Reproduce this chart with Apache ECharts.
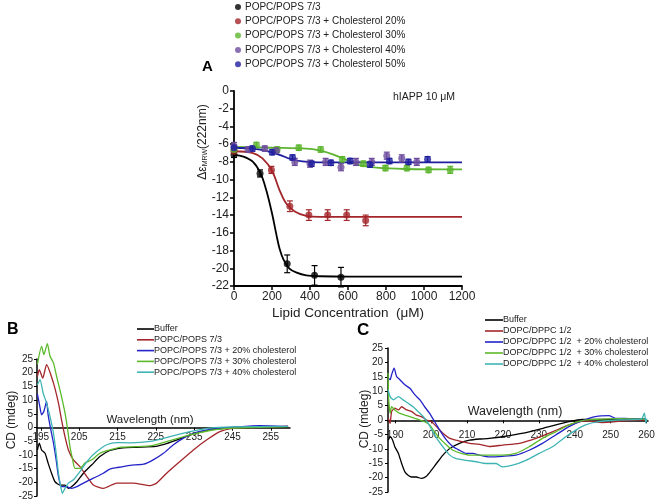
<!DOCTYPE html>
<html><head><meta charset="utf-8">
<script src="https://cdn.jsdelivr.net/npm/echarts@6/dist/echarts.min.js"></script>
<style>html,body{margin:0;padding:0;background:#fff}#c{width:660px;height:502px}</style>
</head><body><div id="c"></div><script>
// ---------- Panel A data ----------
const aLegend = ['POPC/POPS 7/3','POPC/POPS 7/3 + Cholesterol 20%','POPC/POPS 7/3 + Cholesterol 30%','POPC/POPS 7/3 + Cholesterol 40%','POPC/POPS 7/3 + Cholesterol 50%'];
const aXTicks = [0,200,400,600,800,1000,1200];
const aYTicks = [0,-2,-4,-6,-8,-10,-12,-14,-16,-18,-20,-22];
const blackConc = [0,137,280,424,563];
const blackVal  = [-7.2,-9.3,-19.5,-20.8,-21.0];
const blackErr  = [0.3,0.4,1.0,1.1,1.1];
const redConc = [0,197,294,394,493,593,693];
const redVal  = [-6.8,-8.9,-13.0,-14.0,-14.0,-14.0,-14.6];
const redErr  = [0.2,0.4,0.6,0.6,0.6,0.6,0.6];
const greenConc = [0,118,227,341,456,570,681,797,910,1024,1138];
const greenVal  = [-6.6,-6.1,-6.6,-6.4,-6.6,-7.7,-8.2,-8.7,-8.7,-8.9,-8.9];
const greenErr  = [0.3,0.3,0.3,0.3,0.3,0.3,0.3,0.3,0.3,0.3,0.4];
const purpleConc = [0,74,162,223,320,400,482,563,642,725,804,883,962];
const purpleVal  = [-6.2,-6.6,-6.5,-6.7,-8.0,-8.2,-8.0,-8.6,-8.0,-8.0,-7.3,-7.6,-8.0];
const purpleErr  = [0.4,0.3,0.3,0.3,0.4,0.4,0.4,0.4,0.4,0.4,0.4,0.4,0.4];
const blueConc = [0,97,201,308,408,510,611,716,818,918,1019];
const blueVal  = [-6.4,-6.5,-6.9,-7.5,-8.2,-8.1,-7.9,-8.3,-7.9,-8.0,-7.7];
const blueErr  = [0.3,0.3,0.3,0.3,0.3,0.3,0.3,0.3,0.3,0.3,0.3];
// fitted curves
const blackFit = [[0,-7.2],[50,-7.4],[100,-8.0],[140,-9.3],[170,-11.2],[200,-13.8],[225,-16.4],[240,-17.8],[260,-19.0],[290,-20.0],[330,-20.5],[380,-20.8],[450,-20.9],[600,-20.95],[1200,-20.95]];
const redFit = [[0,-6.8],[100,-7.0],[150,-7.6],[200,-9.0],[240,-11.2],[275,-12.7],[320,-13.6],[380,-14.1],[450,-14.2],[1200,-14.2]];
const greenFit = [[0,-6.3],[200,-6.4],[380,-6.5],[450,-6.7],[500,-7.0],[550,-7.4],[600,-7.85],[660,-8.35],[750,-8.65],[900,-8.8],[1200,-8.85]];
const blueFit = [[0,-6.4],[100,-6.5],[180,-6.8],[240,-7.2],[300,-7.7],[360,-7.95],[450,-8.05],[1200,-8.05]];

// ---------- Panel B data (wavelength nm, CD mdeg) ----------
const bLegend = ['Buffer','POPC/POPS 7/3','POPC/POPS 7/3 + 20% cholesterol','POPC/POPS 7/3 + 30% cholesterol','POPC/POPS 7/3 + 40% cholesterol'];
const bXTicks = [195,205,215,225,235,245,255];
const bBuffer = [[194.1,-8.2],[194.6,-5.7],[195.2,-8.2],[196.1,-9.4],[196.9,-13],[197.8,-16.7],[198.7,-19.8],[200,-21],[201.3,-21],[202.2,-22.2],[203,-21.6],[204.4,-19.8],[206.1,-16.7],[208.3,-13.6],[210.4,-10.6],[213,-8.4],[216.4,-7.4],[220,-7.2],[225,-6.9],[228,-5.8],[230,-4.8],[233,-3.2],[236,-1.9],[240,-0.7],[245,-0.1],[250,0.1],[259.5,0.3]];
const bPopc = [[194.1,18.7],[194.6,21.1],[195.5,18],[196.5,22.9],[198.3,16.2],[199.6,8.9],[200.4,2.8],[201.3,-3.3],[202.2,-8.2],[203.5,-11.8],[205.2,-14.3],[207,-17.9],[208.7,-21],[211.3,-22.2],[214.8,-20.3],[219.1,-20.3],[223.5,-21.2],[225.2,-20.3],[227.8,-16.7],[231.3,-12.4],[234.8,-8.2],[238.3,-4.5],[241.7,-1.5],[245.2,-0.3],[250,0],[255,0.2],[259.5,0.5]];
const bChol20 = [[194.1,12.3],[194.8,7.2],[195.2,4.6],[195.8,5.9],[196.5,9.5],[196.9,4.6],[197.6,-0.8],[198.3,-5.7],[199,-11.8],[199.6,-17.9],[200.4,-21.6],[201.7,-21.6],[203,-22.2],[204.4,-21.6],[206.1,-20.3],[208.7,-18.5],[211.3,-16.7],[213,-15.2],[215,-14.6],[218.3,-13.8],[221.8,-13.4],[224.3,-11.8],[227,-9.4],[229.6,-6.3],[232.2,-3.9],[234.8,-2.1],[237.4,-1.1],[241,-0.4],[246,0.2],[252,0.7],[259.5,0.4]];
const bChol30 = [[194.1,23],[195.2,29.6],[195.8,26.6],[196.7,30.6],[197.4,26],[198.3,23.6],[199.1,18.7],[200.4,11.3],[201.3,5.3],[202,-0.8],[202.6,-7],[203.3,-11.8],[203.9,-14.9],[205.2,-14.9],[206.5,-13],[208.3,-11.8],[210.4,-9.4],[213,-8.2],[216,-7.2],[220,-7.0],[224,-6.6],[228.7,-4.8],[233.9,-2.7],[239.1,-1.1],[243,-0.4],[250,0],[259.5,0.3]];
const bChol40 = [[194.1,15.6],[194.8,17.5],[195.6,12.6],[196.5,8.9],[197.4,4],[198.3,-2.1],[199,-9.4],[199.6,-16.7],[200.2,-21.6],[200.6,-24],[201.3,-22.2],[202.2,-20.3],[203.5,-19.1],[205.2,-16.1],[207.4,-11.8],[209.6,-8.8],[212.2,-6.3],[214.8,-5.5],[218.3,-5.6],[223.5,-5.1],[228.7,-3.3],[233.9,-1.5],[239.1,-0.2],[245,0.2],[259.5,0.4]];

// ---------- Panel C data ----------
const cLegend = ['Buffer','DOPC/DPPC 1/2','DOPC/DPPC 1/2  + 20% cholesterol','DOPC/DPPC 1/2  + 30% cholesterol','DOPC/DPPC 1/2  + 40% cholesterol'];
const cXTicks = [190,200,210,220,230,240,250,260];
const cBuffer = [[188.1,-7],[188.6,-5.8],[189.3,-7],[189.9,-9.3],[190.9,-11.6],[191.8,-15.1],[192.7,-18],[193.6,-19.2],[194.6,-19.8],[195.9,-19.8],[197.3,-20.3],[198.7,-19.5],[200.1,-17.4],[201.5,-15.1],[203.3,-12.2],[205.2,-9.9],[207.9,-8.1],[210.7,-7],[213.5,-6.6],[216.2,-6.4],[221.8,-5.4],[227.3,-4.1],[232.9,-2.3],[238.4,-0.6],[242,0.2],[250,0.2],[259.5,0.3]];
const cDopc = [[188.1,0.6],[188.6,-1.2],[189,2.9],[189.9,4.1],[190.9,3.5],[191.8,4.6],[193.2,3.5],[194.6,2.9],[195.9,1.7],[197.3,1.2],[198.7,0],[200.1,-0.6],[201.5,-2.3],[203.3,-4.6],[205.2,-6.4],[207,-7],[208.9,-7.6],[210.7,-8.1],[213.5,-8.5],[216.2,-9.2],[219.9,-8.7],[224.6,-8.1],[229.2,-6.4],[233.8,-4.1],[238.4,-1.7],[243,-0.3],[247.6,-0.9],[252.2,-0.5],[256.9,0],[259.8,0]];
const cChol20 = [[188.1,14.5],[188.6,14],[189,15.7],[189.7,18],[190.4,15.1],[191.3,14],[192.7,12.2],[194.1,11],[195.5,8.7],[196.9,7],[198.2,4.6],[199.6,2.3],[201,-0.6],[202.4,-3.5],[204.3,-7],[206.1,-9.3],[207.9,-10.5],[209.8,-11.6],[211.6,-11.6],[213.5,-12.2],[216.2,-12.8],[219.9,-12.6],[223.6,-12.2],[227.3,-10.5],[231,-8.1],[234.7,-5.2],[238.4,-2.3],[242.1,-0.2],[245.8,1.2],[249.5,1.5],[251.3,0.6],[255,0.5],[259.8,0.3]];
const cChol30 = [[188,16.3],[188.2,7],[188.6,2.3],[189,4.6],[189.9,3.5],[191.3,2.3],[192.7,1.7],[194.1,1.2],[195.5,0.6],[196.9,0],[198.2,-0.6],[199.6,-1.7],[201,-4.1],[202.4,-6.4],[204.3,-8.7],[206.1,-10.5],[208.4,-11.6],[210.7,-12.2],[213.5,-12.2],[216.2,-12.2],[219.9,-12.2],[223.6,-11.6],[227.3,-9.3],[231,-6.4],[234.7,-4.1],[238.4,-1.7],[242.1,-0.2],[245.8,0.2],[252,0.5],[259.8,0.3]];
const cChol40 = [[188,10.5],[188.6,8.1],[189.5,7],[190.9,8.1],[192.2,7],[193.6,5.8],[195,4.6],[196.4,2.9],[197.8,1.2],[199.2,-1.2],[200.5,-4.1],[201.9,-7],[203.3,-9.3],[205.2,-12.2],[207,-13.4],[209.8,-14],[212.6,-14.5],[215.3,-15.1],[218.1,-15.1],[219.9,-16.3],[222.7,-15.7],[226.4,-14],[230.1,-11.6],[233.8,-9.3],[237.5,-5.8],[240.3,-3.5],[243,-1.7],[246.7,-0.6],[252,0],[258.5,0.3],[259.4,2.4],[259.8,-1],[260.1,0.5]];

// ---------- styling ----------
const FONT = 'Liberation Sans, Arial, sans-serif';
const aColors = ['#000000','#a3262a','#5db530','#6d4c9c','#1e1e9e'];
const cdColors = ['#000000','#a3262a','#2323c8','#5cba2a','#3fb4b4'];

function errSeries(name, conc, val, err, color) {
  return {
    name: name, type: 'custom', xAxisIndex: 0, yAxisIndex: 0, z: 3,
    data: conc.map((c, i) => [c, val[i], err[i]]),
    renderItem: function (params, api) {
      const x = api.value(0), y = api.value(1), e = api.value(2);
      const t = api.coord([x, y + e]), b = api.coord([x, y - e]);
      const w = 3;
      const st = { stroke: color, lineWidth: 1.2 };
      return { type: 'group', children: [
        { type: 'line', shape: { x1: t[0], y1: t[1], x2: b[0], y2: b[1] }, style: st },
        { type: 'line', shape: { x1: t[0]-w, y1: t[1], x2: t[0]+w, y2: t[1] }, style: st },
        { type: 'line', shape: { x1: b[0]-w, y1: b[1], x2: b[0]+w, y2: b[1] }, style: st }
      ]};
    }
  };
}
function pts(name, conc, val, color) {
  return { name: name, type: 'scatter', xAxisIndex: 0, yAxisIndex: 0, z: 4, symbolSize: 7,
    itemStyle: { color: color }, data: conc.map((c, i) => [c, val[i]]) };
}
function fit(name, data, color) {
  return { name: name, type: 'line', xAxisIndex: 0, yAxisIndex: 0, z: 2, showSymbol: false, smooth: 0.35,
    lineStyle: { color: color, width: 1.8 }, itemStyle: { color: color }, data: data };
}
function cd(name, data, color, idx) {
  return { name: name, type: 'line', xAxisIndex: idx, yAxisIndex: idx, showSymbol: false, smooth: 0.2, clip: false,
    lineStyle: { color: color, width: 1.3 }, itemStyle: { color: color }, data: data };
}

const axisTxt = { color: '#222', fontFamily: FONT };
const blackLine = w => ({ show: true, onZero: false, lineStyle: { color: '#000', width: w } });

const option = {
  animation: false,
  backgroundColor: '#fff',
  title: [
    { text: 'A', left: 202, top: 59, padding: 0, textStyle: { fontSize: 15, fontWeight: 'bold', color: '#000', fontFamily: FONT } },
    { text: 'B', left: 7, top: 322, padding: 0, textStyle: { fontSize: 16, fontWeight: 'bold', color: '#000', fontFamily: FONT } },
    { text: 'C', left: 357, top: 322, padding: 0, textStyle: { fontSize: 17, fontWeight: 'bold', color: '#000', fontFamily: FONT } }
  ],
  legend: [
    { orient: 'vertical', left: 235, top: 1.5, padding: 0, itemGap: 3.3, itemWidth: 6, itemHeight: 6, icon: 'circle', selectedMode: false,
      textStyle: { fontSize: 10, lineHeight: 11, color: '#222', fontFamily: FONT, padding: [0, 0, 0, -1] },
      formatter: n => n.split('|')[1],
      data: aLegend.map(n => 'A|' + n) },
    { orient: 'vertical', left: 137, top: 324, padding: 0, itemGap: 0.8, itemWidth: 17, itemHeight: 1.6, icon: 'rect', selectedMode: false,
      textStyle: { fontSize: 9, lineHeight: 10, color: '#222', fontFamily: FONT, padding: [0, 0, 0, -5] },
      formatter: n => n.split('|')[1],
      data: bLegend.map(n => 'B|' + n) },
    { orient: 'vertical', left: 485, top: 315, padding: 0, itemGap: 1, itemWidth: 18, itemHeight: 1.6, icon: 'rect', selectedMode: false,
      textStyle: { fontSize: 9, lineHeight: 10, color: '#222', fontFamily: FONT, padding: [0, 0, 0, -5] },
      formatter: n => n.split('|')[1],
      data: cLegend.map(n => 'C|' + n) }
  ],
  grid: [
    { left: 234, right: 198, top: 91, bottom: 216 },
    { left: 37, right: 370, top: 359, bottom: 6 },
    { left: 388, right: 12, top: 348, bottom: 10 }
  ],
  xAxis: [
    { gridIndex: 0, type: 'value', min: aXTicks[0], max: aXTicks[aXTicks.length-1], interval: 200,
      axisLine: blackLine(1.8), axisTick: { show: true, length: 4, lineStyle: { color: '#000', width: 1.5 } },
      axisLabel: Object.assign({ fontSize: 12, margin: 5, formatter: v => String(v) }, axisTxt), splitLine: { show: false },
      name: 'Lipid Concentration  (\u03bcM)', nameLocation: 'middle', nameGap: 20,
      nameTextStyle: { fontSize: 13.5, color: '#222', fontFamily: FONT } },
    { gridIndex: 1, type: 'value', min: 194, max: 260, offset: -68.3,
      axisLine: blackLine(1.5), axisTick: { show: true, length: 3, customValues: bXTicks, lineStyle: { color: '#000' } },
      axisLabel: Object.assign({ fontSize: 10, margin: 5, customValues: bXTicks }, axisTxt), splitLine: { show: false } },
    { gridIndex: 2, type: 'value', min: 188, max: 260.4, offset: -71.7,
      axisLine: blackLine(1.5), axisTick: { show: true, length: 3, customValues: cXTicks, lineStyle: { color: '#000' } },
      axisLabel: Object.assign({ fontSize: 10, margin: 10, customValues: cXTicks }, axisTxt), splitLine: { show: false } }
  ],
  yAxis: [
    { gridIndex: 0, type: 'value', min: -22, max: 0, interval: 2,
      axisLine: blackLine(1.8), axisTick: { show: true, length: 4, lineStyle: { color: '#000', width: 1.5 } },
      axisLabel: Object.assign({ fontSize: 12, margin: 5 }, axisTxt), splitLine: { show: false } },
    { gridIndex: 1, type: 'value', min: -25, max: 25, interval: 5,
      axisLine: blackLine(1.5), axisTick: { show: true, length: 3, lineStyle: { color: '#000' } },
      axisLabel: Object.assign({ fontSize: 10, margin: 4 }, axisTxt), splitLine: { show: false } },
    { gridIndex: 2, type: 'value', min: -25, max: 25, interval: 5,
      axisLine: blackLine(1.5), axisTick: { show: true, length: 3, lineStyle: { color: '#000' } },
      axisLabel: Object.assign({ fontSize: 10, margin: 5 }, axisTxt), splitLine: { show: false } }
  ],
  graphic: [
    { type: 'text', x: 203, y: 142, rotation: Math.PI / 2,
      style: { text: '\u0394\u03b5{s|MRW}(222nm)', fill: '#222', font: '12px ' + FONT, textAlign: 'center', textVerticalAlign: 'middle', align: 'center', verticalAlign: 'middle',
        rich: { s: { fontSize: 7, fill: '#222', padding: [5, 0, 0, 0] } } } },
    { type: 'text', x: 393, y: 97,
      style: { text: 'hIAPP 10 \u03bcM', fill: '#222', font: '10.5px ' + FONT, textVerticalAlign: 'middle', verticalAlign: 'middle' } },
    { type: 'text', x: 12, y: 420, rotation: Math.PI / 2,
      style: { text: 'CD (mdeg)', fill: '#222', font: '12px ' + FONT, textAlign: 'center', textVerticalAlign: 'middle', align: 'center', verticalAlign: 'middle' } },
    { type: 'text', x: 150, y: 420,
      style: { text: 'Wavelength (nm)', fill: '#222', font: '11.5px ' + FONT, textAlign: 'center', textVerticalAlign: 'middle', align: 'center', verticalAlign: 'middle' } },
    { type: 'text', x: 365, y: 419, rotation: Math.PI / 2,
      style: { text: 'CD (mdeg)', fill: '#222', font: '12px ' + FONT, textAlign: 'center', textVerticalAlign: 'middle', align: 'center', verticalAlign: 'middle' } },
    { type: 'text', x: 515, y: 412,
      style: { text: 'Wavelength (nm)', fill: '#222', font: '12.5px ' + FONT, textAlign: 'center', textVerticalAlign: 'middle', align: 'center', verticalAlign: 'middle' } }
  ],
  series: [
    fit('fit0', blackFit, aColors[0]),
    fit('fit1', redFit, aColors[1]),
    fit('fit2', greenFit, aColors[2]),
    fit('fit4', blueFit, aColors[4]),
    errSeries('e0', blackConc, blackVal, blackErr, aColors[0]),
    errSeries('e1', redConc, redVal, redErr, aColors[1]),
    errSeries('e2', greenConc, greenVal, greenErr, aColors[2]),
    errSeries('e3', purpleConc, purpleVal, purpleErr, aColors[3]),
    errSeries('e4', blueConc, blueVal, blueErr, aColors[4]),
    pts('A|' + aLegend[0], blackConc, blackVal, aColors[0]),
    pts('A|' + aLegend[1], redConc, redVal, aColors[1]),
    pts('A|' + aLegend[2], greenConc, greenVal, aColors[2]),
    pts('A|' + aLegend[3], purpleConc, purpleVal, aColors[3]),
    pts('A|' + aLegend[4], blueConc, blueVal, aColors[4]),
    cd('B|' + bLegend[0], bBuffer, cdColors[0], 1),
    cd('B|' + bLegend[1], bPopc, cdColors[1], 1),
    cd('B|' + bLegend[2], bChol20, cdColors[2], 1),
    cd('B|' + bLegend[3], bChol30, cdColors[3], 1),
    cd('B|' + bLegend[4], bChol40, cdColors[4], 1),
    cd('C|' + cLegend[0], cBuffer, cdColors[0], 2),
    cd('C|' + cLegend[1], cDopc, cdColors[1], 2),
    cd('C|' + cLegend[2], cChol20, cdColors[2], 2),
    cd('C|' + cLegend[3], cChol30, cdColors[3], 2),
    cd('C|' + cLegend[4], cChol40, cdColors[4], 2)
  ]
};
const chart = echarts.init(document.getElementById('c'), null, { renderer: 'canvas' });
chart.setOption(option);
</script></body></html>
